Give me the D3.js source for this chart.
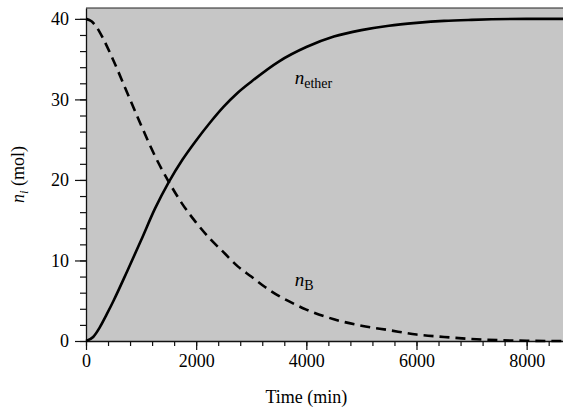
<!DOCTYPE html>
<html>
<head><meta charset="utf-8"><script src="https://cdn.jsdelivr.net/npm/d3@7"></script></head>
<body style="margin:0">
<script>
var serif = "'Liberation Serif'";

// time in minutes, moles
var etherTime = [0, 130, 250, 375, 500, 750, 1000, 1250, 1500, 1750, 2000, 2250, 2500, 2750, 3000, 3500, 4000, 4500, 5000, 5500, 6000, 6500, 7000, 8000, 8660];
var etherMol  = [0, 0.5, 1.7, 3.3, 5.0, 8.7, 12.5, 16.4, 19.7, 22.5, 24.9, 27.1, 29.1, 30.8, 32.2, 34.7, 36.5, 37.8, 38.6, 39.15, 39.5, 39.75, 39.88, 40.0, 40.0];

var bTime = [0, 100, 200, 300, 500, 750, 1000, 1250, 1500, 1750, 2000, 2250, 2500, 2750, 3000, 3250, 3500, 3750, 4000, 4500, 5000, 5500, 6000, 6500, 7000, 7500, 8000, 8660];
var bMol  = [40, 39.7, 38.9, 37.7, 34.8, 30.8, 26.8, 23.0, 19.8, 17.0, 14.7, 12.7, 11.0, 9.3, 8.0, 6.7, 5.6, 4.7, 3.9, 2.7, 1.9, 1.35, 0.8, 0.5, 0.25, 0.1, 0.03, 0.0];

var xTicks = [0, 2000, 4000, 6000, 8000];
var yTicks = [0, 10, 20, 30, 40];

// label anchors in data units
var etherLabel = {t: 3790, n: 31.9};
var bLabel = {t: 3790, n: 6.8};

var width = 563, height = 408;
var margin = {top: 8, right: 0, bottom: 67, left: 86};

var svg = d3.select("body").append("svg")
    .attr("width", width)
    .attr("height", height);

var x = d3.scaleLinear().domain([0, 8660]).range([margin.left, width - margin.right]);
var y = d3.scaleLinear().domain([0, 41.35]).range([height - margin.bottom, margin.top]);

// shaded plot background
svg.append("rect")
    .attr("x", margin.left)
    .attr("y", margin.top)
    .attr("width", width - margin.left - margin.right)
    .attr("height", height - margin.top - margin.bottom)
    .attr("fill", "#c6c6c6");

// top frame line
svg.append("line")
    .attr("x1", margin.left).attr("x2", width)
    .attr("y1", margin.top).attr("y2", margin.top)
    .attr("stroke", "#222").attr("stroke-width", 1.2);

// minor ticks
var xMinor = d3.range(0, 8660, 400);
var yMinor = d3.range(0, 41, 2);

svg.append("g")
    .attr("transform", "translate(0," + y(0) + ")")
    .call(d3.axisBottom(x).tickValues(xMinor).tickSize(5).tickSizeOuter(0).tickFormat(""))
    .call(function(g){ g.select(".domain").remove(); });

svg.append("g")
    .attr("transform", "translate(" + x(0) + ",0)")
    .call(d3.axisLeft(y).tickValues(yMinor).tickSize(6).tickSizeOuter(0).tickFormat(""))
    .call(function(g){ g.select(".domain").remove(); });

// major axes
svg.append("g")
    .attr("transform", "translate(0," + y(0) + ")")
    .call(d3.axisBottom(x).tickValues(xTicks).tickSize(9).tickSizeOuter(0).tickPadding(4).tickFormat(d3.format("d")));

svg.append("g")
    .attr("transform", "translate(" + x(0) + ",0)")
    .call(d3.axisLeft(y).tickValues(yTicks).tickSize(11).tickSizeOuter(0).tickPadding(6));

svg.selectAll("g").attr("font-family", null).attr("font-size", null);
svg.selectAll(".domain").attr("stroke", "#111").attr("stroke-width", 1.3);
svg.selectAll(".tick line").attr("stroke", "#111").attr("stroke-width", 1.2);
svg.selectAll(".tick text")
    .style("font-family", serif)
    .style("font-size", "18px")
    .attr("fill", "#000");

// curves
var line = d3.line()
    .x(function(d){ return x(d[0]); })
    .y(function(d){ return y(d[1]); })
    .curve(d3.curveMonotoneX);

svg.append("path")
    .datum(d3.zip(bTime, bMol))
    .attr("d", line)
    .attr("fill", "none")
    .attr("stroke", "#000")
    .attr("stroke-width", 2.6)
    .attr("stroke-dasharray", "10,6");

svg.append("path")
    .datum(d3.zip(etherTime, etherMol))
    .attr("d", line)
    .attr("fill", "none")
    .attr("stroke", "#000")
    .attr("stroke-width", 2.6);

// curve labels
function curveLabel(pos, sub) {
  var t = svg.append("text")
      .attr("x", x(pos.t))
      .attr("y", y(pos.n))
      .style("font-family", serif)
      .style("font-size", "19px");
  t.append("tspan").style("font-style", "italic").text("n");
  t.append("tspan").attr("dy", 4).style("font-size", "14px").text(sub);
}
curveLabel(etherLabel, "ether");
curveLabel(bLabel, "B");

// axis titles
svg.append("text")
    .attr("x", (x(0) + x(8000)) / 2)
    .attr("y", 403)
    .attr("text-anchor", "middle")
    .style("font-family", serif)
    .style("font-size", "18px")
    .text("Time (min)");

var yt = svg.append("text")
    .attr("transform", "translate(24," + ((y(0) + y(41.35)) / 2) + ") rotate(-90)")
    .attr("text-anchor", "middle")
    .style("font-family", serif)
    .style("font-size", "18px");
yt.append("tspan").style("font-style", "italic").text("n");
yt.append("tspan").attr("dy", 4).style("font-size", "13px").style("font-style", "italic").text("i");
yt.append("tspan").attr("dy", -4).text(" (mol)");
</script>
</body>
</html>
